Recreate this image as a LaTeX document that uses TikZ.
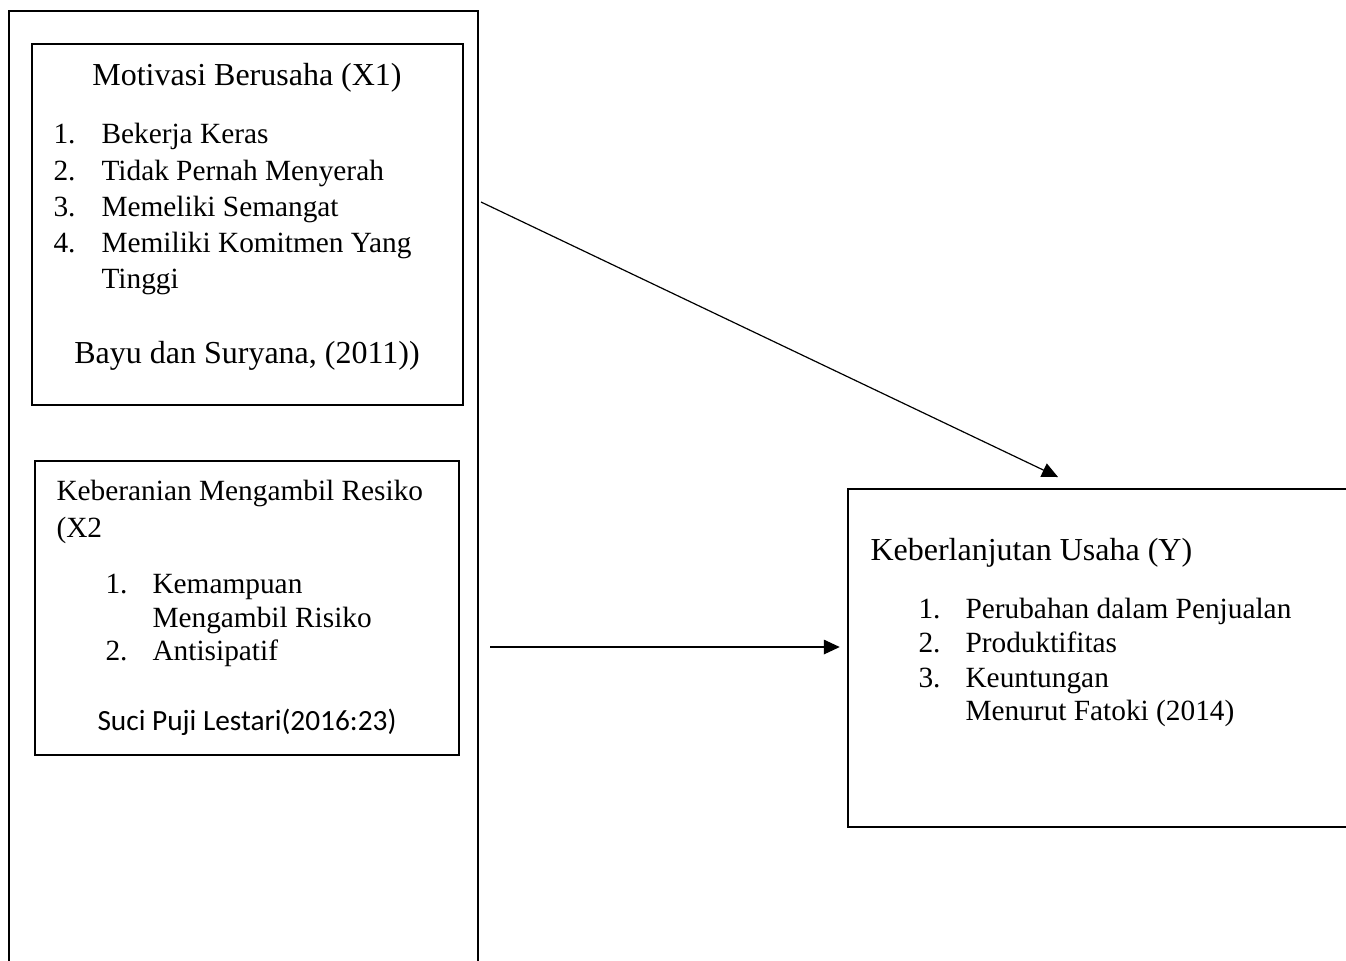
\documentclass[tikz,border=0pt]{standalone}
\usepackage{fontspec}
\setmainfont{Liberation Serif}
\newfontfamily\calibri{Carlito}
\usetikzlibrary{arrows.meta}

\begin{document}
\begin{tikzpicture}[x=0.375pt,y=-0.375pt,
    box/.style={draw=black, line width=1pt, inner sep=0pt},
    txt/.style={anchor=base west, inner sep=0pt, font=\fontsize{11}{13}\selectfont},
    ctxt/.style={anchor=base, inner sep=0pt, font=\fontsize{12}{14}\selectfont},
    link/.style={-{Triangle[length=6pt,width=5.5pt]}, line width=0.45pt}]
      \useasboundingbox (0,0) rectangle (1346,960);
      % outer frame, cut off at the bottom
      \draw[line width=1pt] (9,985) -- (9,11) -- (478,11) -- (478,985);
      % variable boxes
      \node[box, minimum width=431*0.375pt, minimum height=361*0.375pt] (motivasi) at (247.5,224.5) {};
      \node[box, minimum width=424*0.375pt, minimum height=294*0.375pt] (resiko) at (247,608) {};
      \node[box, minimum width=530*0.375pt, minimum height=338*0.375pt] (usaha) at (1113,658) {};
      % X1
      \node[ctxt] (t1) at (247,85) {Motivasi Berusaha (X1)};
      \node[txt] (n11) at (53,143) {1.};
      \node[txt] (i11) at (101,143) {Bekerja Keras};
      \node[txt] (n12) at (53,180) {2.};
      \node[txt] (i12) at (101,180) {Tidak Pernah Menyerah};
      \node[txt] (n13) at (53,216) {3.};
      \node[txt] (i13) at (101,216) {Memeliki Semangat};
      \node[txt] (n14) at (53,252) {4.};
      \node[txt] (i14) at (101,252) {Memiliki Komitmen Yang};
      \node[txt] (i15) at (101,288) {Tinggi};
      \node[ctxt] (s1) at (247,363) {Bayu dan Suryana, (2011))};
      % X2
      \node[txt] (t2) at (56,500) {Keberanian Mengambil Resiko};
      \node[txt] (t2b) at (56,537) {(X2};
      \node[txt] (n21) at (105,593) {1.};
      \node[txt] (i21) at (152,593) {Kemampuan};
      \node[txt] (i21b) at (152,627) {Mengambil Risiko};
      \node[txt] (n22) at (105,660) {2.};
      \node[txt] (i22) at (152,660) {Antisipatif};
      \node[ctxt, font=\calibri\fontsize{11}{13}\selectfont] (s2) at (247,730) {Suci Puji Lestari(2016:23)};
      % Y
      \node[txt, font=\fontsize{12}{14}\selectfont] (t3) at (870,560) {Keberlanjutan Usaha (Y)};
      \node[txt] (n31) at (918,618) {1.};
      \node[txt] (i31) at (965,618) {Perubahan dalam Penjualan};
      \node[txt] (n32) at (918,652) {2.};
      \node[txt] (i32) at (965,652) {Produktifitas};
      \node[txt] (n33) at (918,687) {3.};
      \node[txt] (i33) at (965,687) {Keuntungan};
      \node[txt] (s3) at (965,720) {Menurut Fatoki (2014)};
      % arrows
      \coordinate (from1) at (481,202);
      \coordinate (to1) at (1058,477);
      \coordinate (from2) at (490,647);
      \draw[link] (from1) -- (to1);
      \draw[link, shorten >=2.6pt] (from2) -- (usaha.west |- from2);
\end{tikzpicture}
\end{document}
